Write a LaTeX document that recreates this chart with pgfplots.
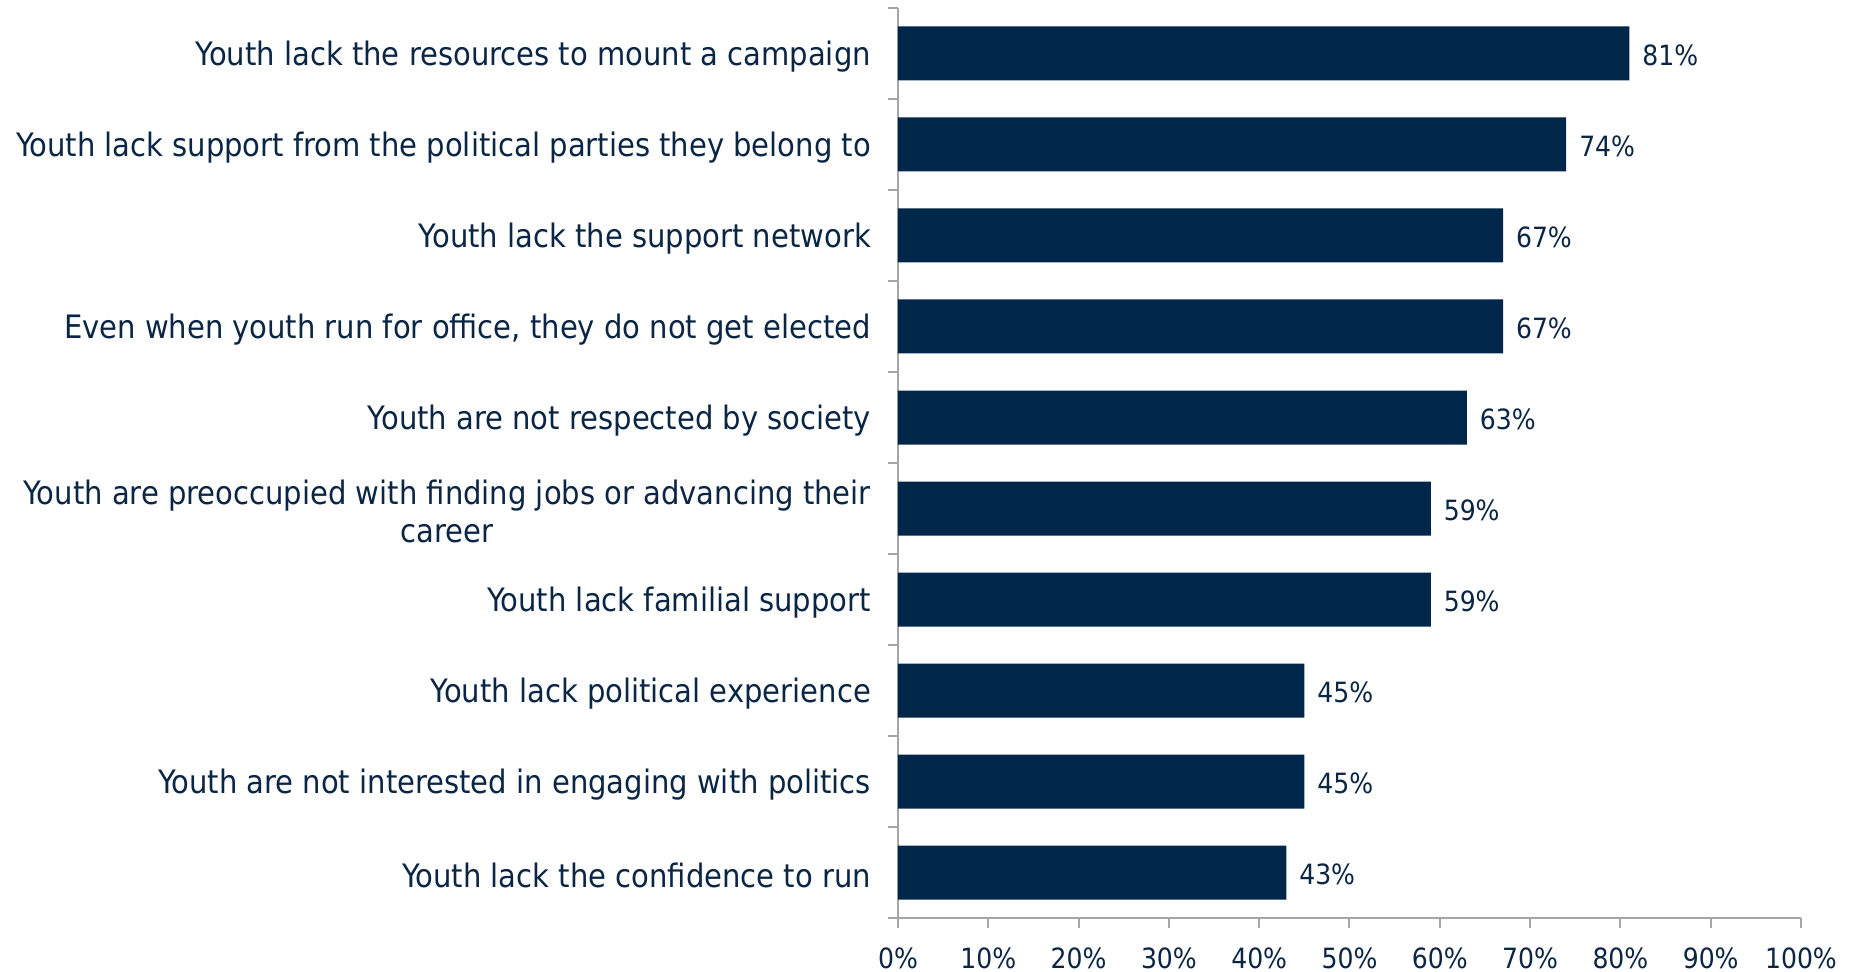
\documentclass[border=0pt]{standalone}
\usepackage{pgfplots}
\pgfplotsset{compat=1.18}
\usepackage{fontspec}
\setmainfont{DejaVu Sans Condensed}
\definecolor{barc}{HTML}{00264A}
\definecolor{txtc}{HTML}{0B2545}
\definecolor{axc}{HTML}{A6A6A6}
\begin{document}
\begin{tikzpicture}
\begin{axis}[
  at={(0,0)}, anchor=south west,
  scale only axis,
  width=451.5bp, height=455bp,
  xbar, bar width=27bp,
  xmin=0, xmax=100,
  ymin=-0.5, ymax=9.5,
  y dir=reverse,
  axis x line*=bottom, axis y line*=left,
  axis line style={axc, line width=1pt},
  xtick={0,10,...,100},
  xticklabel={\pgfmathprintnumber{\tick}\%},
  /pgf/number format/assume math mode=true,
  ytick={0,...,9},
  yticklabels={
    Youth lack the resources to mount a campaign,
    Youth lack support from the political parties they belong to,
    Youth lack the support network,
    {Even when youth run for office, they do not get elected},
    Youth are not respected by society,
    {Youth are preoccupied with finding jobs or advancing their\\career},
    Youth lack familial support,
    Youth lack political experience,
    Youth are not interested in engaging with politics,
    Youth lack the confidence to run},
  minor ytick={-0.5,0.5,...,9.5},
  major y tick style={draw=none},
  minor y tick style={axc, line width=1pt},
  x tick style={axc, line width=1pt},
  tick align=outside,
  major tick length=5bp, minor tick length=5bp,
  yticklabel style={font=\fontsize{16.2}{19}\selectfont, text=txtc, align=center, xshift=-5bp, yshift=-1.5bp},
  xticklabel style={font=\fontsize{14}{17}\selectfont, text=txtc, yshift=-6.5bp},
  nodes near coords={\pgfmathprintnumber{\pgfplotspointmeta}\%},
  nodes near coords style={font=\fontsize{14}{17}\selectfont, text=txtc, xshift=3bp, yshift=-1bp},
  point meta=x,
  clip=false,
]
\addplot[fill=barc, draw=none] coordinates {
(81,0) (74,1) (67,2) (67,3) (63,4) (59,5) (59,6) (45,7) (45,8) (43,9)};
\end{axis}
\pgfresetboundingbox
\path[use as bounding box] (-449bp,-27bp) rectangle (477bp,459bp);
\end{tikzpicture}
\end{document}
